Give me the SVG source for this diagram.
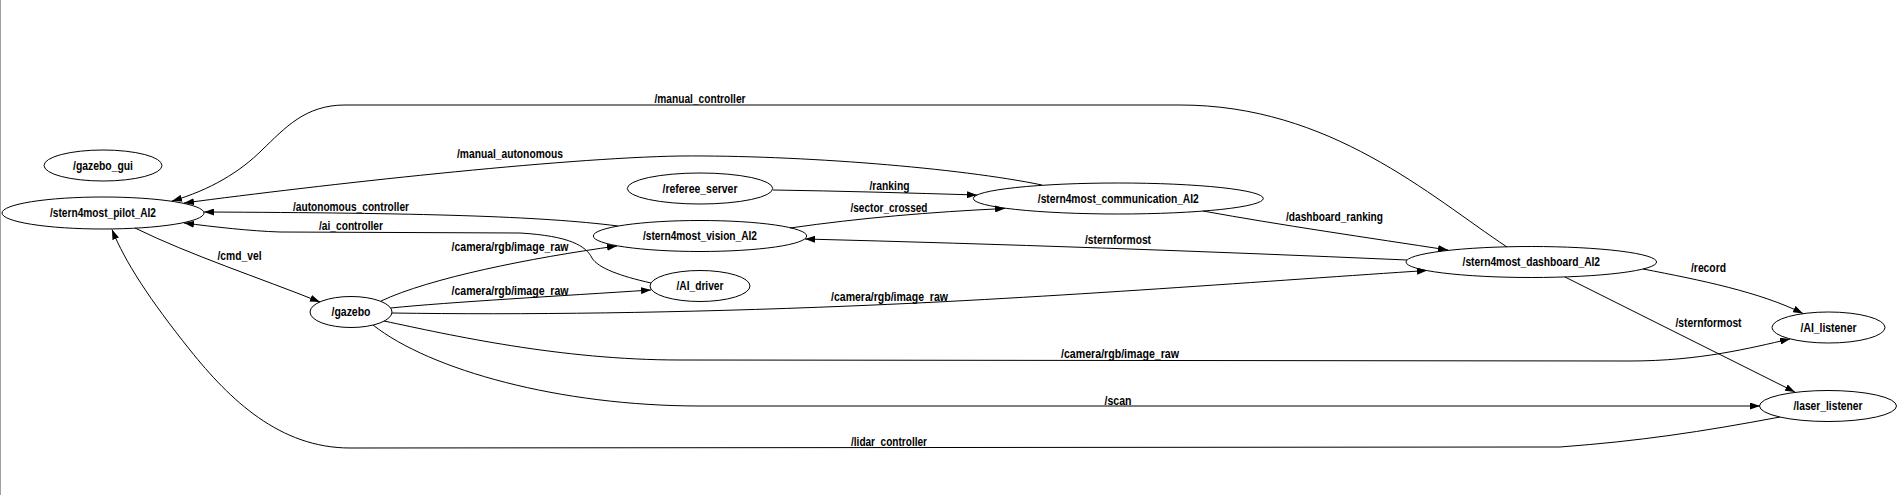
<svg xmlns="http://www.w3.org/2000/svg" width="1900" height="495" viewBox="0 0 1900 495">
<style>
.node ellipse{fill:none;stroke:#000;stroke-width:1}
#edges path{fill:none;stroke:#000;stroke-width:1;marker-end:url(#arr)}
text{font-family:"Liberation Sans",Arial,sans-serif;font-size:12.5px;font-weight:bold;fill:#000;text-anchor:middle}
</style>
<defs>
<marker id="arr" markerWidth="10" markerHeight="7" refX="10" refY="3.5" orient="auto" markerUnits="userSpaceOnUse">
<path d="M0,0 L10,3.5 L0,7 z" fill="#000"/>
</marker>
</defs>
<rect x="0" y="0" width="1900" height="495" fill="#fff"/>
<rect x="0" y="0" width="1" height="495" fill="#a0a0a0"/>

<g id="edges">
<path d="M1507,247 C1430,196 1330,105 1180,105 L345,105 C305,105 285,128 262,150 C240,172 210,190 172,201"/>
<text x="700" y="103" textLength="91" lengthAdjust="spacingAndGlyphs">/manual_controller</text>
<path d="M1042,185 C960,168 800,155 680,156 C560,158 320,185 184,203"/>
<text x="510" y="158" textLength="106" lengthAdjust="spacingAndGlyphs">/manual_autonomous</text>
<path d="M618,226 C540,216 420,213 204,212"/>
<text x="351" y="211" textLength="116" lengthAdjust="spacingAndGlyphs">/autonomous_controller</text>
<path d="M651,283 C620,276 598,268 592,258 C586,246 570,236 520,233 L280,232 C250,231 215,227 184,223"/>
<text x="351" y="229.5" textLength="64" lengthAdjust="spacingAndGlyphs">/ai_controller</text>
<path d="M135,228 C190,255 260,278 320,302"/>
<text x="239.5" y="260" textLength="44" lengthAdjust="spacingAndGlyphs">/cmd_vel</text>
<path d="M381,301 C430,278 530,258 617,246"/>
<text x="510" y="250.5" textLength="117" lengthAdjust="spacingAndGlyphs">/camera/rgb/image_raw</text>
<path d="M390.5,308 C450,302 560,296 651,290"/>
<text x="510" y="295" textLength="117" lengthAdjust="spacingAndGlyphs">/camera/rgb/image_raw</text>
<path d="M392,313 C520,315 680,313 850,306 C1050,298 1280,280 1427,270.5"/>
<text x="889.5" y="300.5" textLength="117" lengthAdjust="spacingAndGlyphs">/camera/rgb/image_raw</text>
<path d="M384,321 C450,335 560,360 680,360 L1630,361 C1700,361 1750,348 1790,339"/>
<text x="1120" y="358" textLength="118" lengthAdjust="spacingAndGlyphs">/camera/rgb/image_raw</text>
<path d="M373,325 C430,370 560,406 700,406 L1760,406"/>
<text x="1118" y="404.5" textLength="27" lengthAdjust="spacingAndGlyphs">/scan</text>
<path d="M1780,417 C1700,432 1640,441 1560,447 L350,448 C280,448 230,400 190,350 C150,300 125,262 112,229.5"/>
<text x="889" y="445.5" textLength="76" lengthAdjust="spacingAndGlyphs">/lidar_controller</text>
<path d="M773,190 C840,191 910,193 977,195"/>
<text x="889.5" y="189.5" textLength="40" lengthAdjust="spacingAndGlyphs">/ranking</text>
<path d="M790,228 C860,218 930,212 1005,208.5"/>
<text x="889" y="212" textLength="77" lengthAdjust="spacingAndGlyphs">/sector_crossed</text>
<path d="M1203,211 C1280,225 1370,238 1448,250"/>
<text x="1334.5" y="220.5" textLength="97" lengthAdjust="spacingAndGlyphs">/dashboard_ranking</text>
<path d="M1407,260 C1200,251 1000,244 805,239"/>
<text x="1118" y="243.5" textLength="66" lengthAdjust="spacingAndGlyphs">/sternformost</text>
<path d="M1643,269 C1700,280 1760,292 1803,313.5"/>
<text x="1708.5" y="272" textLength="35" lengthAdjust="spacingAndGlyphs">/record</text>
<path d="M1565,277 L1795,392"/>
<text x="1708.5" y="327" textLength="66" lengthAdjust="spacingAndGlyphs">/sternformost</text>
</g>

<g id="gazebo_gui" class="node"><ellipse cx="103" cy="165.5" rx="59" ry="15.5"/><text x="103" y="169.5" textLength="60" lengthAdjust="spacingAndGlyphs">/gazebo_gui</text></g>
<g id="stern4most_pilot_AI2" class="node"><ellipse cx="103" cy="213" rx="101" ry="16"/><text x="103" y="217" textLength="106" lengthAdjust="spacingAndGlyphs">/stern4most_pilot_AI2</text></g>
<g id="gazebo" class="node"><ellipse cx="351" cy="312" rx="41" ry="15.5"/><text x="351" y="316" textLength="39" lengthAdjust="spacingAndGlyphs">/gazebo</text></g>
<g id="referee_server" class="node"><ellipse cx="700" cy="188.5" rx="72.7" ry="15.5"/><text x="700" y="192.5" textLength="75" lengthAdjust="spacingAndGlyphs">/referee_server</text></g>
<g id="stern4most_communication_AI2" class="node"><ellipse cx="1118.3" cy="198.5" rx="145" ry="15.5"/><text x="1118.3" y="202.5" textLength="161" lengthAdjust="spacingAndGlyphs">/stern4most_communication_AI2</text></g>
<g id="stern4most_vision_AI2" class="node"><ellipse cx="700" cy="236" rx="106.7" ry="15.5"/><text x="700" y="240" textLength="114" lengthAdjust="spacingAndGlyphs">/stern4most_vision_AI2</text></g>
<g id="AI_driver" class="node"><ellipse cx="700" cy="286" rx="50" ry="15.5"/><text x="700" y="290" textLength="47" lengthAdjust="spacingAndGlyphs">/AI_driver</text></g>
<g id="stern4most_dashboard_AI2" class="node"><ellipse cx="1531.3" cy="262" rx="125.3" ry="15.5"/><text x="1531.3" y="266" textLength="137.5" lengthAdjust="spacingAndGlyphs">/stern4most_dashboard_AI2</text></g>
<g id="AI_listener" class="node"><ellipse cx="1828.5" cy="327.5" rx="56.5" ry="15.5"/><text x="1828.5" y="331.5" textLength="56" lengthAdjust="spacingAndGlyphs">/AI_listener</text></g>
<g id="laser_listener" class="node"><ellipse cx="1828" cy="406" rx="68.5" ry="15.5"/><text x="1828" y="410" textLength="69" lengthAdjust="spacingAndGlyphs">/laser_listener</text></g>
</svg>
